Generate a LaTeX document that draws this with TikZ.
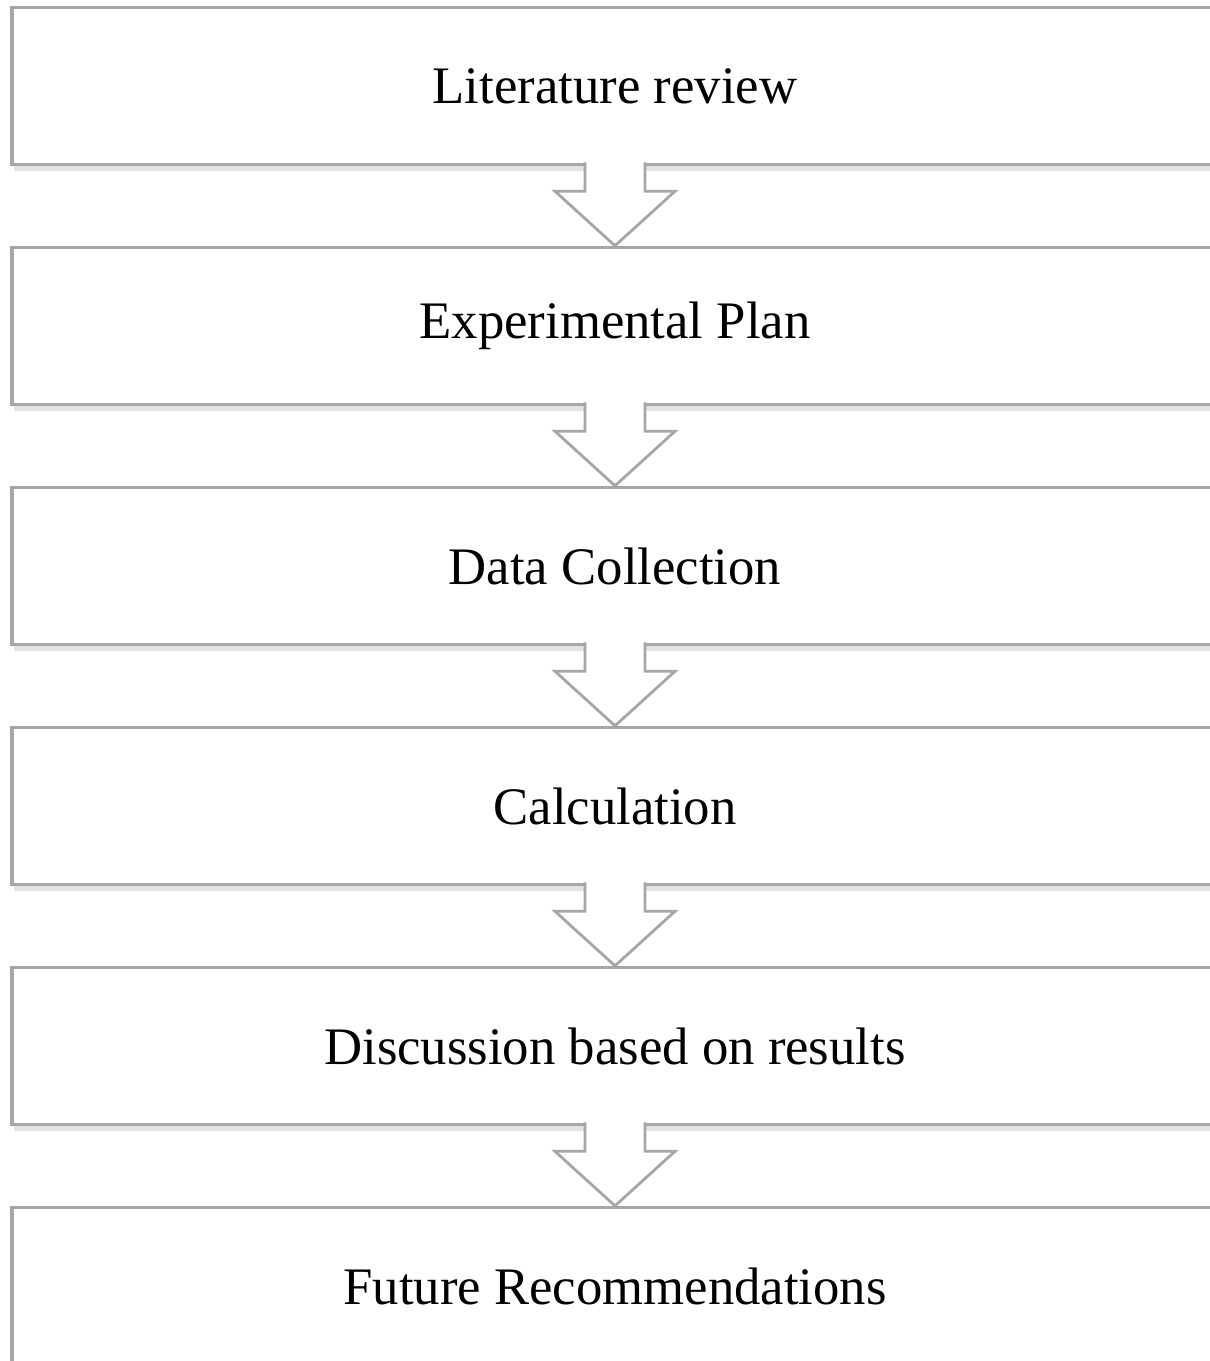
\documentclass[tikz,border=0pt]{standalone}
\usepackage{fontspec}
\setmainfont{Liberation Serif}
\usetikzlibrary{positioning,shadows}

\tikzset{
  stage/.style={draw=gray!70, line width=1pt, fill=white,
    minimum width=12.06cm, minimum height=1.57cm, inner sep=0pt,
    font=\fontsize{15}{18}\selectfont,
    drop shadow={opacity=.22, shadow xshift=.5pt, shadow yshift=-1.8pt}},
  flow/.style={draw=gray!70, line width=.8pt, fill=white, line join=miter}
}

\begin{document}
\begin{tikzpicture}
  \useasboundingbox (0,0) rectangle (12.10,-13.61);
  % the stages, top to bottom
  \node[stage] (lit) at (6.15,-0.86) {Literature review};
  \node[stage, below=0.795cm of lit] (plan) {Experimental Plan};
  \node[stage, below=0.795cm of plan] (data) {Data Collection};
  \node[stage, below=0.795cm of data] (calcn) {Calculation};
  \node[stage, below=0.795cm of calcn] (disc) {Discussion based on results};
  \node[stage, below=0.795cm of disc] (fut) {Future Recommendations};
  % block arrows between stages (top edge left open)
  \foreach \a/\b in {lit/plan, plan/data, data/calcn, calcn/disc, disc/fut}
    \draw[flow] ([shift={(-0.3,0.04)}]\a.south) -- ([shift={(-0.3,-0.25)}]\a.south)
      -- ([shift={(-0.6,-0.25)}]\a.south) -- (\b.north)
      -- ([shift={(0.6,-0.25)}]\a.south) -- ([shift={(0.3,-0.25)}]\a.south)
      -- ([shift={(0.3,0.04)}]\a.south);
\end{tikzpicture}
\end{document}
